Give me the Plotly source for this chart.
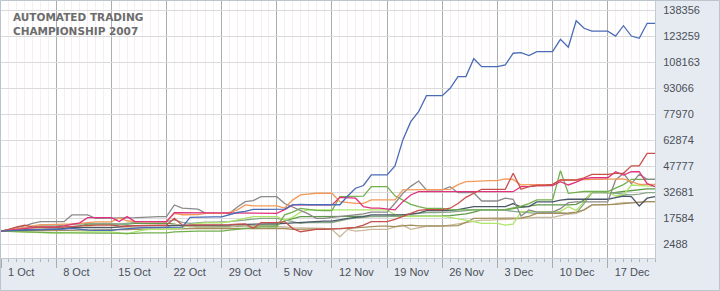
import pandas as pd
import plotly.graph_objects as go

# ---------------- data (account equity, USD thousands, daily 1 Oct - 23 Dec 2007) --------------
start_date = "2007-10-01"
n_days = 84

blue = [10.0, 10.3, 10.6, 10.9, 10.8, 10.8, 10.8,
        10.8, 11.2, 11.6, 11.0, 10.5, 10.4, 10.4,
        10.4, 11.0, 11.4, 11.8, 12.0, 12.0, 12.0,
        12.0, 12.2, 12.3, 18.0, 18.2, 18.2, 18.2,
        18.2, 19.5, 20.8, 21.5, 22.6, 22.6, 22.6,
        22.6, 22.8, 25.2, 25.5, 25.3, 25.3, 25.3,
        25.3, 25.3, 30.4, 34.9, 36.5, 42.7, 42.7,
        42.7, 47.9, 63.0, 73.6, 79.4, 88.7, 88.7,
        88.7, 93.0, 99.8, 99.8, 110.2, 105.6, 105.6,
        105.6, 106.6, 113.4, 113.7, 112.0, 114.3, 114.3,
        114.3, 121.5, 116.9, 132.3, 127.9, 126.2, 126.2,
        126.2, 123.4, 129.4, 123.4, 122.1, 130.8, 130.8]

red = [10.0, 11.0, 12.5, 13.5, 12.5, 12.2, 12.2,
       12.2, 12.5, 12.8, 13.0, 13.2, 13.5, 13.5,
       13.5, 13.0, 12.8, 13.2, 13.4, 13.4, 13.4,
       13.4, 17.4, 13.5, 13.5, 13.6, 13.6, 13.6,
       13.6, 13.8, 14.0, 14.1, 11.6, 14.9, 14.9,
       14.9, 15.5, 11.6, 9.6, 10.5, 11.0, 11.0,
       11.0, 11.4, 11.8, 12.1, 13.5, 15.5, 15.5,
       15.5, 16.8, 18.5, 20.5, 22.0, 22.5, 22.5,
       22.5, 23.3, 26.0, 29.6, 32.0, 34.3, 34.3,
       34.3, 34.3, 43.6, 34.3, 35.8, 36.5, 36.5,
       37.2, 39.7, 39.7, 39.7, 41.0, 43.0, 43.0,
       43.0, 43.6, 43.6, 47.9, 47.9, 55.2, 55.2]

orange = [10.0, 10.8, 11.5, 12.5, 13.2, 13.8, 13.8,
          13.8, 14.0, 14.2, 14.5, 15.0, 15.3, 15.3,
          15.3, 17.5, 16.0, 15.5, 15.3, 15.3, 15.3,
          15.3, 20.3, 19.5, 19.5, 19.6, 20.3, 20.3,
          20.3, 20.8, 22.3, 25.2, 24.6, 24.6, 24.6,
          24.6, 23.4, 28.0, 31.0, 31.6, 32.0, 32.0,
          32.0, 27.1, 26.5, 26.1, 26.1, 28.1, 28.1,
          28.1, 28.1, 33.9, 34.0, 34.2, 34.3, 34.3,
          34.3, 34.3, 37.0, 38.7, 38.9, 39.3, 39.3,
          39.3, 40.3, 40.0, 36.8, 37.0, 37.2, 37.2,
          37.2, 39.7, 39.5, 39.7, 39.9, 40.0, 40.0,
          40.0, 40.2, 40.3, 38.7, 37.2, 37.2, 37.2]

magenta = [10.0, 10.5, 11.0, 11.5, 12.0, 12.5, 12.5,
           12.5, 13.0, 14.0, 14.8, 17.8, 17.8, 17.8,
           17.8, 15.5, 18.4, 15.5, 15.5, 15.5, 15.5,
           15.5, 20.7, 20.7, 20.7, 20.7, 20.5, 20.5,
           20.5, 20.4, 20.3, 20.3, 20.3, 20.3, 20.3,
           20.3, 22.5, 25.2, 25.2, 25.2, 25.2, 25.2,
           25.2, 29.6, 29.4, 29.1, 24.2, 23.4, 23.4,
           23.0, 22.3, 27.1, 31.0, 32.9, 32.9, 32.9,
           32.9, 32.9, 32.9, 32.9, 32.9, 32.9, 32.9,
           32.9, 32.9, 32.9, 35.8, 35.8, 36.5, 36.5,
           36.5, 38.7, 36.8, 38.5, 40.5, 41.0, 41.0,
           41.0, 44.5, 42.6, 44.5, 44.5, 37.6, 35.8]

gray = [10.0, 11.0, 12.0, 13.0, 14.5, 15.5, 15.5,
        15.5, 15.5, 19.4, 19.4, 19.4, 17.4, 17.4,
        17.4, 17.4, 17.6, 17.8, 18.0, 18.4, 18.4,
        18.4, 25.2, 23.3, 23.0, 22.8, 20.3, 20.3,
        20.3, 20.3, 24.0, 27.1, 27.7, 30.0, 30.0,
        30.0, 26.0, 24.0, 22.3, 20.0, 17.4, 17.4,
        18.0, 18.5, 19.0, 19.5, 20.0, 21.0, 21.0,
        21.0, 26.2, 32.0, 36.0, 39.1, 33.9, 33.9,
        33.9, 35.8, 32.3, 32.3, 32.3, 27.5, 27.5,
        27.5, 29.1, 28.5, 18.8, 22.3, 21.0, 21.0,
        21.0, 23.0, 26.5, 27.0, 27.0, 27.0, 27.0,
        27.0, 39.7, 43.6, 37.6, 43.0, 40.1, 40.1]

green = [10.0, 9.8, 9.6, 9.4, 9.2, 9.0, 9.0,
         9.0, 8.9, 8.9, 8.9, 8.9, 8.9, 8.9,
         8.9, 8.9, 8.5, 8.7, 9.0, 9.0, 9.0,
         9.0, 9.5, 9.8, 10.0, 10.0, 10.0, 10.0,
         10.0, 10.5, 11.0, 11.5, 12.0, 12.5, 12.5,
         12.5, 19.4, 21.0, 23.2, 22.5, 22.0, 21.9,
         21.9, 30.0, 30.0, 30.0, 30.3, 35.8, 35.8,
         35.8, 30.5, 28.1, 25.5, 24.2, 23.2, 23.2,
         23.2, 22.3, 22.3, 22.3, 22.3, 22.3, 22.3,
         22.3, 22.5, 23.5, 24.5, 26.0, 28.1, 28.1,
         28.1, 45.1, 31.9, 32.5, 33.0, 33.0, 33.0,
         33.0, 35.0, 37.0, 40.1, 40.1, 40.1, 40.1]

lime = [10.0, 9.8, 9.5, 9.2, 9.0, 9.0, 9.0,
        9.0, 9.2, 9.5, 9.3, 9.5, 9.5, 9.5,
        9.5, 9.0, 8.2, 9.5, 10.5, 11.0, 11.0,
        11.0, 11.5, 12.0, 13.5, 14.5, 14.8, 14.8,
        14.8, 15.5, 16.5, 17.4, 18.4, 18.4, 18.4,
        18.4, 16.4, 18.0, 21.0, 22.3, 22.3, 22.3,
        22.3, 22.3, 22.3, 22.3, 22.3, 22.3, 22.3,
        22.3, 19.4, 19.0, 18.4, 18.5, 18.5, 18.5,
        18.5, 18.0, 17.0, 16.4, 15.5, 14.5, 14.5,
        14.5, 13.5, 14.0, 21.3, 21.3, 21.3, 21.3,
        21.3, 21.5, 24.2, 22.0, 27.0, 32.9, 32.9,
        32.9, 30.4, 31.0, 36.8, 36.5, 36.0, 36.0]

slate = [10.0, 10.2, 10.5, 10.8, 11.0, 11.0, 11.0,
         11.0, 11.5, 12.0, 12.0, 12.0, 12.0, 12.0,
         12.0, 12.5, 13.0, 13.0, 13.2, 13.2, 13.2,
         13.2, 13.2, 13.2, 13.3, 13.3, 13.3, 13.3,
         13.3, 13.5, 13.8, 14.0, 14.0, 14.2, 14.2,
         14.2, 14.5, 15.0, 15.2, 15.5, 15.8, 15.8,
         15.8, 16.8, 17.4, 18.0, 18.4, 19.4, 19.4,
         19.4, 19.4, 19.4, 19.9, 20.5, 21.9, 21.9,
         21.9, 21.9, 22.5, 23.5, 24.2, 24.2, 24.2,
         24.2, 24.2, 26.0, 24.0, 24.2, 27.0, 27.0,
         27.0, 28.0, 28.5, 28.5, 28.5, 28.5, 28.5,
         28.5, 29.5, 30.4, 30.0, 24.6, 29.1, 30.0]

olive = [10.0, 10.0, 10.1, 10.2, 10.2, 10.2, 10.2,
         10.2, 10.3, 10.4, 10.5, 10.5, 10.6, 10.6,
         10.6, 10.8, 10.9, 11.0, 11.0, 11.0, 11.0,
         11.0, 11.2, 11.3, 11.5, 11.5, 11.5, 11.5,
         11.5, 11.5, 11.6, 11.6, 11.8, 11.8, 11.8,
         11.8, 11.5, 11.0, 11.0, 11.0, 11.0, 11.0,
         11.0, 11.4, 11.6, 12.0, 12.2, 12.9, 12.9,
         12.9, 12.6, 13.0, 13.5, 13.0, 12.9, 12.9,
         12.9, 13.0, 13.2, 15.0, 17.4, 17.4, 17.4,
         17.4, 17.4, 17.4, 17.6, 18.5, 20.3, 20.3,
         20.3, 20.3, 20.5, 21.0, 22.3, 25.2, 25.2,
         25.2, 25.5, 26.0, 26.5, 26.8, 27.1, 27.1]

tan = [10.0, 10.5, 11.0, 11.5, 11.5, 11.5, 11.5,
       11.5, 11.8, 12.0, 12.0, 12.5, 12.5, 12.5,
       12.5, 12.2, 11.8, 12.0, 12.2, 12.2, 12.2,
       12.2, 14.0, 13.0, 12.5, 12.3, 12.3, 12.3,
       12.3, 12.5, 13.0, 13.2, 13.0, 12.8, 12.8,
       12.8, 12.5, 12.0, 12.0, 12.0, 11.6, 11.6,
       11.0, 6.7, 11.0, 10.0, 10.4, 11.0, 11.0,
       11.0, 12.5, 13.5, 11.0, 12.0, 12.8, 12.8,
       12.8, 13.5, 14.2, 15.0, 15.5, 16.4, 16.4,
       16.4, 16.8, 17.0, 17.4, 17.4, 18.0, 18.0,
       18.0, 19.0, 20.0, 20.3, 22.3, 25.2, 25.2,
       25.2, 26.0, 26.5, 26.5, 27.0, 27.1, 27.1]

graygreen = [10.0, 10.5, 11.0, 11.8, 12.5, 13.0, 13.0,
             13.0, 13.5, 14.0, 14.0, 14.5, 14.5, 14.5,
             14.5, 14.0, 14.5, 15.0, 15.5, 15.5, 15.5,
             15.5, 16.5, 15.0, 14.5, 15.0, 15.2, 15.2,
             15.2, 15.5, 16.0, 16.5, 17.0, 17.4, 17.4,
             17.4, 16.5, 15.5, 14.5, 15.0, 15.0, 15.0,
             15.0, 16.0, 17.0, 17.5, 18.0, 18.4, 18.4,
             18.4, 19.0, 19.4, 20.0, 20.5, 20.8, 20.8,
             20.8, 21.0, 21.5, 22.0, 22.3, 22.3, 22.3,
             22.3, 22.0, 21.5, 21.0, 20.5, 20.3, 20.3,
             20.3, 20.5, 20.0, 20.3, 26.0, 32.3, 32.3,
             32.3, 32.0, 31.5, 31.0, 31.5, 32.3, 32.3]

darkgreen = [10.0, 10.2, 10.5, 11.0, 11.5, 12.0, 12.0,
             12.0, 12.0, 12.5, 13.0, 14.0, 14.2, 14.2,
             14.2, 14.0, 14.0, 14.5, 14.5, 14.6, 14.6,
             14.6, 14.0, 13.0, 13.0, 12.5, 12.5, 12.5,
             12.5, 12.5, 12.7, 13.0, 13.0, 13.5, 13.5,
             13.5, 16.0, 17.4, 18.4, 18.4, 18.4, 18.4,
             18.4, 18.4, 18.4, 18.4, 18.4, 18.4, 18.4,
             18.4, 18.4, 18.4, 18.5, 18.6, 18.8, 18.8,
             18.8, 19.0, 19.5, 20.0, 21.0, 22.3, 22.3,
             22.3, 22.5, 23.0, 24.0, 24.5, 25.2, 25.2,
             25.2, 25.0, 25.2, 25.5, 28.0, 32.3, 32.3,
             32.3, 32.5, 33.0, 33.5, 34.0, 34.5, 34.5]

y_tick_values = [2488, 17584, 32681, 47777, 62874, 77970, 93066, 108163, 123259, 138356]
title_lines = ["AUTOMATED TRADING", "CHAMPIONSHIP 2007"]

series = [
    ("darkgreen", darkgreen, "#5f9a48"),
    ("graygreen", graygreen, "#8aa88a"),
    ("tan", tan, "#c9b99b"),
    ("olive", olive, "#a38f5e"),
    ("lime", lime, "#ade66a"),
    ("slate", slate, "#4b5869"),
    ("green", green, "#72b04e"),
    ("gray", gray, "#8a8a8a"),
    ("orange", orange, "#f39a5a"),
    ("magenta", magenta, "#e0327c"),
    ("red", red, "#c8504c"),
    ("blue", blue, "#4a6bb5"),
]

# ---------------- figure ----------------
W, H = 720, 291
ML, MR, MT, MB = 1, 65, 1, 33
PW, PH = W - ML - MR, H - MT - MB

dates = pd.date_range(start_date, periods=n_days, freq="D")

fig = go.Figure()
for name, vals, col in series:
    fig.add_trace(go.Scatter(x=dates, y=[v * 1000 for v in vals], mode="lines", name=name,
                             line=dict(color=col, width=1.3), hoverinfo="skip"))

DAY = 86400000
fig.update_layout(
    width=W, height=H,
    margin=dict(l=ML, r=MR, t=MT, b=MB),
    paper_bgcolor="#e6ebf2",
    plot_bgcolor="#ffffff",
    showlegend=False,
    hovermode=False,
    font=dict(family="Liberation Sans, Arial, sans-serif", size=11, color="#4a4f57"),
)
fig.update_xaxes(
    type="date",
    range=[dates[0], dates[-1]],
    tick0=dates[0], dtick=7 * DAY,
    tickformat="%-d %b",
    showgrid=True, gridcolor="#acacac", gridwidth=1,
    ticks="outside", ticklen=9, tickcolor="#acacac", tickwidth=1,
    ticklabelposition="outside right",
    ticklabelshift=6, ticklabelstandoff=4,
    tickfont=dict(size=11, color="#4a4f57"),
    showline=True, linecolor="#c3cad4", linewidth=1, mirror=False,
    zeroline=False,
    minor=dict(tick0=dates[0], dtick=DAY, showgrid=True, gridcolor="#f7eef2",
               ticks="outside", ticklen=3, tickcolor="#b4b4b4"),
    fixedrange=True,
)
fig.update_yaxes(
    side="right",
    range=[-5653, 143764],
    tickmode="array", tickvals=y_tick_values, ticktext=[str(v) for v in y_tick_values],
    showgrid=True, gridcolor="#dadada", gridwidth=1,
    ticks="outside", ticklen=5, tickcolor="rgba(0,0,0,0)",
    tickfont=dict(size=11, color="#4a4f57"),
    showline=True, linecolor="#c3cad4", linewidth=1,
    zeroline=False,
    fixedrange=True,
)

# chart title
fig.add_annotation(
    xref="paper", yref="paper",
    x=(11 - ML) / PW, y=(MT + PH - 9) / PH,
    xanchor="left", yanchor="top", align="left", showarrow=False,
    text="<b>" + "<br>".join(title_lines) + "</b>",
    font=dict(family="DejaVu Sans", size=10.5, color="#6c6c6c"),
)

# outer border of the widget
fig.add_shape(type="rect", xref="paper", yref="paper",
              x0=(0.5 - ML) / PW, x1=(W - 0.5 - ML) / PW,
              y0=-(H - 0.5 - MT - PH) / PH, y1=(PH + MT - 0.5) / PH,
              line=dict(color="#bcc4ce", width=1), fillcolor="rgba(0,0,0,0)", layer="above")

fig.write_html("out.html")
